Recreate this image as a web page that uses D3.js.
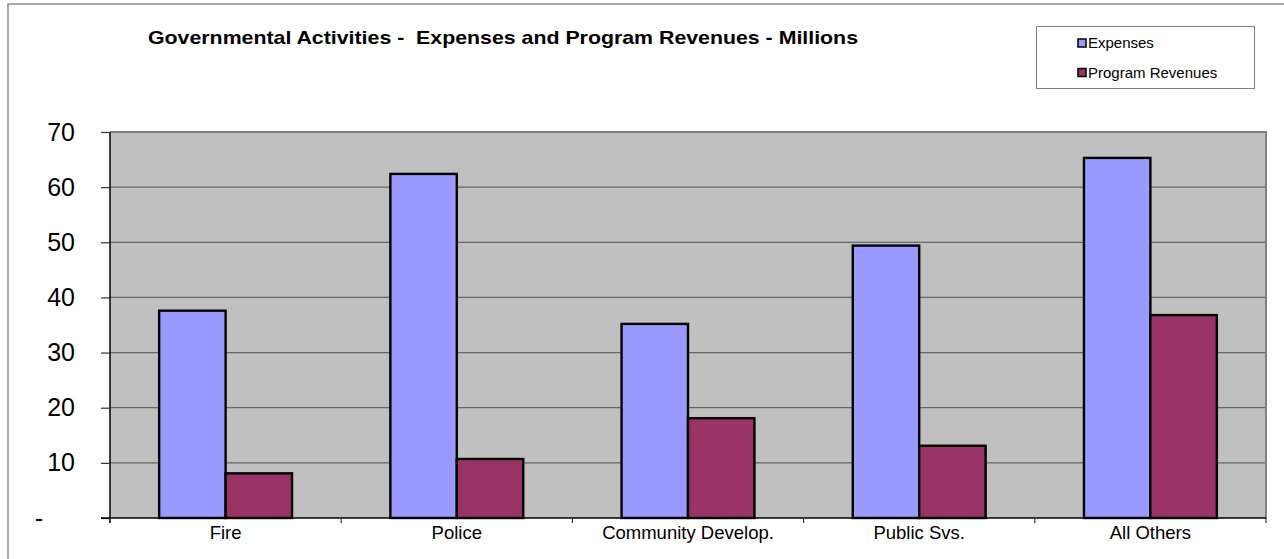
<!DOCTYPE html>
<html>
<head>
<meta charset="utf-8">
<script src="https://cdn.jsdelivr.net/npm/d3@7"></script>
<style>
  body { margin: 0; background: #fff; }
  svg { display: block; font-family: "Liberation Sans", Arial, sans-serif; }
</style>
</head>
<body>
<div id="container"></div>
<script>
"use strict";

const width = 1284;
const height = 559;

// chart data (millions)
const categories = ["Fire", "Police", "Community Develop.", "Public Svs.", "All Others"];
const seriesNames = ["Expenses", "Program Revenues"];
const expenses = [37.6, 62.4, 35.2, 49.4, 65.3];
const programRevenues = [8.1, 10.7, 18.1, 13.1, 36.8];
const yTicks = [0, 10, 20, 30, 40, 50, 60, 70];
const colors = ["#9999ff", "#993366"];

// plot area
const plot = { left: 110, right: 1266, top: 132, bottom: 518 };

const svg = d3.select("#container").append("svg")
    .attr("width", width)
    .attr("height", height);

// outer chart frame (only top and left edges are visible)
svg.append("path")
    .attr("d", "M8," + height + "V4H" + width)
    .attr("fill", "none")
    .attr("stroke", "#8c8c8c")
    .attr("stroke-width", 1.5);

// scales
const x0 = d3.scaleBand()
    .domain(categories)
    .range([plot.left, plot.right])
    .padding(0);

const x1 = d3.scaleBand()
    .domain(seriesNames)
    .range([0, x0.bandwidth()])
    .paddingInner(0)
    .paddingOuter(0.74);

const y = d3.scaleLinear()
    .domain([0, 70])
    .range([plot.bottom, plot.top]);

// plot background
svg.append("rect")
    .attr("x", plot.left)
    .attr("y", plot.top)
    .attr("width", plot.right - plot.left)
    .attr("height", plot.bottom - plot.top)
    .attr("fill", "#c0c0c0");

// gridlines
svg.append("g")
    .selectAll("line")
    .data(yTicks.filter(d => d > 0 && d < 70))
    .enter()
    .append("line")
    .attr("x1", plot.left)
    .attr("x2", plot.right)
    .attr("y1", d => y(d))
    .attr("y2", d => y(d))
    .attr("stroke", "#666")
    .attr("stroke-width", 1.3);

// top/right border of plot area
svg.append("path")
    .attr("d", "M" + plot.left + "," + plot.top + "H" + plot.right + "V" + plot.bottom)
    .attr("fill", "none")
    .attr("stroke", "#808080")
    .attr("stroke-width", 2);

// bars
const rows = categories.map((c, i) => ({
    category: c,
    values: [expenses[i], programRevenues[i]]
}));

const groups = svg.append("g")
    .selectAll("g")
    .data(rows)
    .enter()
    .append("g")
    .attr("transform", d => "translate(" + x0(d.category) + ",0)");

groups.selectAll("rect")
    .data(d => d.values.map((v, j) => ({ series: seriesNames[j], value: v, color: colors[j] })))
    .enter()
    .append("rect")
    .attr("x", d => x1(d.series))
    .attr("y", d => y(d.value))
    .attr("width", x1.bandwidth())
    .attr("height", d => y(0) - y(d.value))
    .attr("fill", d => d.color)
    .attr("stroke", "#000")
    .attr("stroke-width", 2.4);

// y axis
const yAxis = svg.append("g")
    .attr("transform", "translate(" + plot.left + ",0)")
    .call(d3.axisLeft(y)
        .tickValues(yTicks)
        .tickSize(9)
        .tickPadding(26)
        .tickFormat(d => d === 0 ? "-" : d));

yAxis.select(".domain")
    .attr("d", "M0," + plot.top + "V" + (plot.bottom + 5))
    .attr("stroke", "#000")
    .attr("stroke-width", 1.5);
yAxis.selectAll(".tick line").attr("stroke", "#333").attr("stroke-width", 1.2);
yAxis.selectAll(".tick text")
    .attr("font-size", 25)
    .attr("font-family", "'Liberation Sans', Arial, sans-serif")
    .attr("fill", "#000")
    .attr("dx", d => d === 0 ? -32 : 0);

// x axis line and category ticks (at band edges)
svg.append("line")
    .attr("x1", plot.left - 9)
    .attr("x2", plot.right)
    .attr("y1", plot.bottom)
    .attr("y2", plot.bottom)
    .attr("stroke", "#000")
    .attr("stroke-width", 1.5);

const edges = categories.map(c => x0(c)).concat([plot.right]);
svg.append("g")
    .selectAll("line")
    .data(edges)
    .enter()
    .append("line")
    .attr("x1", d => d)
    .attr("x2", d => d)
    .attr("y1", plot.bottom)
    .attr("y2", plot.bottom + 5)
    .attr("stroke", "#333")
    .attr("stroke-width", 1.2);

svg.append("g")
    .selectAll("text")
    .data(categories)
    .enter()
    .append("text")
    .attr("x", d => x0(d) + x0.bandwidth() / 2)
    .attr("y", 539)
    .attr("text-anchor", "middle")
    .attr("font-size", 18.5)
    .text(d => d);

// title
svg.append("text")
    .attr("x", 148)
    .attr("y", 44)
    .attr("font-size", 18.5)
    .attr("font-weight", "bold")
    .attr("textLength", 710)
    .attr("lengthAdjust", "spacingAndGlyphs")
    .style("white-space", "pre")
    .text("Governmental Activities -  Expenses and Program Revenues - Millions");

// legend
const legend = svg.append("g");
legend.append("rect")
    .attr("x", 1036.5)
    .attr("y", 26.5)
    .attr("width", 218)
    .attr("height", 62)
    .attr("fill", "#fff")
    .attr("stroke", "#808080")
    .attr("stroke-width", 1);

const items = legend.selectAll("g.item")
    .data(seriesNames)
    .enter()
    .append("g")
    .attr("class", "item")
    .attr("transform", (d, i) => "translate(1078," + (39 + i * 29.5) + ")");

items.append("rect")
    .attr("width", 8)
    .attr("height", 8)
    .attr("fill", (d, i) => colors[i])
    .attr("stroke", "#000")
    .attr("stroke-width", 1.5);

items.append("text")
    .attr("x", 10)
    .attr("y", 9)
    .attr("font-size", 15)
    .text(d => d);
</script>
</body>
</html>
